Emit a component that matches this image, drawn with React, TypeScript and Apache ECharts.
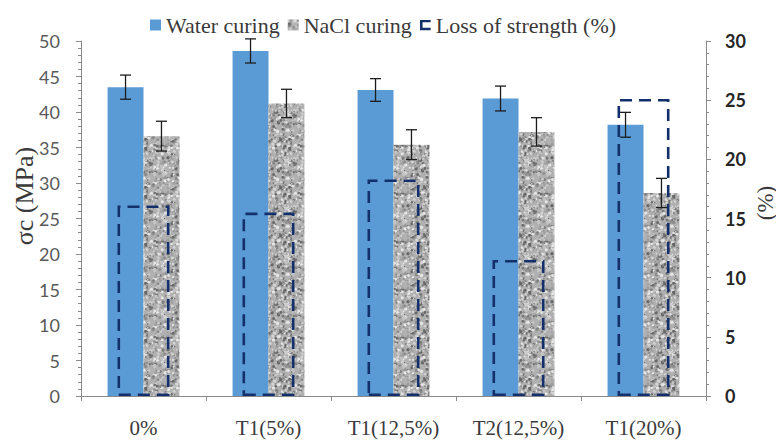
import React, { useEffect, useRef } from "react";
import * as echarts from "echarts";

// Compressive strength (MPa) after curing in water and in NaCl solution
const categories = ["0%", "T1(5%)", "T1(12,5%)", "T2(12,5%)", "T1(20%)"];
const waterCuring = [43.5, 48.6, 43.1, 41.9, 38.2];
const waterCuringError = [1.7, 1.7, 1.6, 1.75, 1.75];
const naclCuring = [36.6, 41.2, 35.4, 37.2, 28.6];
const naclCuringError = [2.1, 2.0, 2.1, 2.0, 2.05];
// Loss of strength (%) on the secondary axis
const strengthLoss = [16.1, 15.5, 18.3, 11.5, 25.1];

// Axis ranges
const stressAxis = { min: 0, max: 50, interval: 5 };
const lossAxis = { min: 0, max: 30, interval: 5 };

const CATEGORY_GAP = 0.425;
const SERIF = "Liberation Serif";
const SANS = "Lato";
const NAVY = "#14306c";
const BLUE = "#5b9bd5";
const TEXT = "#3a3a3a";

// Bracket-shaped legend marker for the dashed "loss" outline
const bracketIcon =
  "image://data:image/svg+xml;charset=utf-8," +
  encodeURIComponent(
    `<svg xmlns="http://www.w3.org/2000/svg" width="12" height="12" viewBox="0 0 12 12">` +
      `<path d="M0 0H12V3H3V9H12V12H0Z" fill="${NAVY}"/></svg>`
  );

// Speckled grey fill used for the NaCl bars (seeded, so it is always the same tile)
function makeGraniteTile(): HTMLCanvasElement {
  const size = 48;
  const c = document.createElement("canvas");
  c.width = size;
  c.height = size;
  const ctx = c.getContext("2d")!;
  ctx.fillStyle = "#b0b0b0";
  ctx.fillRect(0, 0, size, size);
  let seed = 12345;
  const rnd = () => {
    seed = (seed * 16807) % 2147483647;
    return (seed - 1) / 2147483646;
  };
  const shades = ["#767676", "#8a8a8a", "#9c9c9c", "#d4d4d4", "#e6e6e6", "#686868", "#c4c4c4"];
  for (let i = 0; i < 420; i++) {
    const x = rnd() * size;
    const y = rnd() * size;
    const r = 0.5 + rnd() * 1.2;
    ctx.fillStyle = shades[Math.floor(rnd() * shades.length)];
    for (const dx of [-size, 0, size]) {
      for (const dy of [-size, 0, size]) {
        ctx.beginPath();
        ctx.arc(x + dx, y + dy, r, 0, Math.PI * 2);
        ctx.fill();
      }
    }
  }
  return c;
}

function errorBars(name: string, values: number[], errors: number[], side: number) {
  return {
    type: "custom",
    name,
    xAxisIndex: 0,
    yAxisIndex: 0,
    z: 6,
    silent: true,
    data: values.map((v, i) => [i, v, errors[i]]),
    encode: { x: 0, y: 1 },
    renderItem: (_params: any, api: any) => {
      const idx = api.value(0);
      const v = api.value(1);
      const e = api.value(2);
      const band = api.size([1, 0])[0];
      const offset = (side * band * (1 - CATEGORY_GAP)) / 4;
      const hi = api.coord([idx, v + e]);
      const lo = api.coord([idx, v - e]);
      const x = hi[0] + offset;
      const cap = 5.5;
      const style = { stroke: "#1c1c1c", lineWidth: 1.3 };
      return {
        type: "group",
        children: [
          { type: "line", shape: { x1: x, y1: hi[1], x2: x, y2: lo[1] }, style },
          { type: "line", shape: { x1: x - cap, y1: hi[1], x2: x + cap, y2: hi[1] }, style },
          { type: "line", shape: { x1: x - cap, y1: lo[1], x2: x + cap, y2: lo[1] }, style },
        ],
      };
    },
  };
}

function axisTitle(text: string, x: number, y: number, size: number) {
  return {
    type: "text",
    x,
    y,
    rotation: Math.PI / 2,
    style: {
      text,
      font: `${size}px "${SERIF}"`,
      fill: TEXT,
      align: "center",
      verticalAlign: "middle",
      textAlign: "center",
      textVerticalAlign: "middle",
    },
  };
}

export default function App() {
  const ref = useRef<HTMLDivElement>(null);

  useEffect(() => {
    if (!ref.current) return;
    const chart = echarts.init(ref.current, null, { renderer: "svg" });
    const granite = makeGraniteTile();

    const axisGrey = "#8a8a8a";
    const legendText = { fontFamily: SERIF, fontSize: 22, color: TEXT };

    chart.setOption({
      animation: false,
      backgroundColor: "#ffffff",
      textStyle: { fontFamily: SERIF },
      grid: { left: 81, right: 70, top: 41, bottom: 46 },
      legend: {
        left: 145,
        top: 9,
        itemWidth: 11,
        itemHeight: 11,
        itemGap: 8,
        textStyle: legendText,
        data: [
          { name: "Water curing", icon: "rect" },
          { name: "NaCl curing", icon: "rect" },
          { name: "Loss of strength (%)", icon: bracketIcon },
        ],
      },
      graphic: [axisTitle("σc (MPa)", 24, 196, 26), axisTitle("(%)", 765, 203, 23)],
      xAxis: [
        {
          type: "category",
          data: categories,
          axisLine: { lineStyle: { color: axisGrey, width: 1 } },
          axisTick: { show: true, length: 5, lineStyle: { color: axisGrey } },
          axisLabel: {
            interval: 0,
            fontFamily: SERIF,
            fontSize: 21,
            color: TEXT,
            margin: 21,
          },
        },
        { type: "category", data: categories, show: false },
      ],
      yAxis: [
        {
          type: "value",
          ...stressAxis,
          splitLine: { show: false },
          axisLine: { show: true, lineStyle: { color: axisGrey } },
          axisTick: { show: true, length: 5, lineStyle: { color: axisGrey } },
          minorTick: { show: true, splitNumber: 5, length: 3, lineStyle: { color: axisGrey } },
          axisLabel: { fontFamily: SANS, fontSize: 18, color: "#595959", margin: 21 },
        },
        {
          type: "value",
          ...lossAxis,
          position: "right",
          splitLine: { show: false },
          axisLine: { show: true, lineStyle: { color: axisGrey } },
          axisTick: { show: true, length: 5, lineStyle: { color: axisGrey } },
          minorTick: { show: true, splitNumber: 5, length: 3, lineStyle: { color: axisGrey } },
          axisLabel: {
            fontFamily: SANS,
            fontSize: 18,
            fontWeight: "bold",
            color: "#262626",
            margin: 19,
          },
        },
      ],
      series: [
        {
          name: "Water curing",
          type: "bar",
          xAxisIndex: 0,
          yAxisIndex: 0,
          data: waterCuring,
          barGap: "0%",
          barCategoryGap: `${CATEGORY_GAP * 100}%`,
          itemStyle: { color: BLUE },
          z: 2,
        },
        {
          name: "NaCl curing",
          type: "bar",
          xAxisIndex: 0,
          yAxisIndex: 0,
          data: naclCuring,
          itemStyle: { color: { image: granite, repeat: "repeat" } },
          z: 2,
        },
        {
          name: "Loss of strength (%)",
          type: "bar",
          xAxisIndex: 1,
          yAxisIndex: 1,
          data: strengthLoss,
          barWidth: 52,
          itemStyle: {
            color: "transparent",
            borderColor: NAVY,
            borderWidth: 2.6,
            borderType: [12, 7],
          },
          z: 4,
        },
        errorBars("Water curing error", waterCuring, waterCuringError, -1),
        errorBars("NaCl curing error", naclCuring, naclCuringError, 1),
      ],
    });

    return () => chart.dispose();
  }, []);

  return (
    <div
      ref={ref}
      style={{ position: "fixed", left: 0, top: 0, width: 776, height: 442, background: "#fff" }}
    />
  );
}
